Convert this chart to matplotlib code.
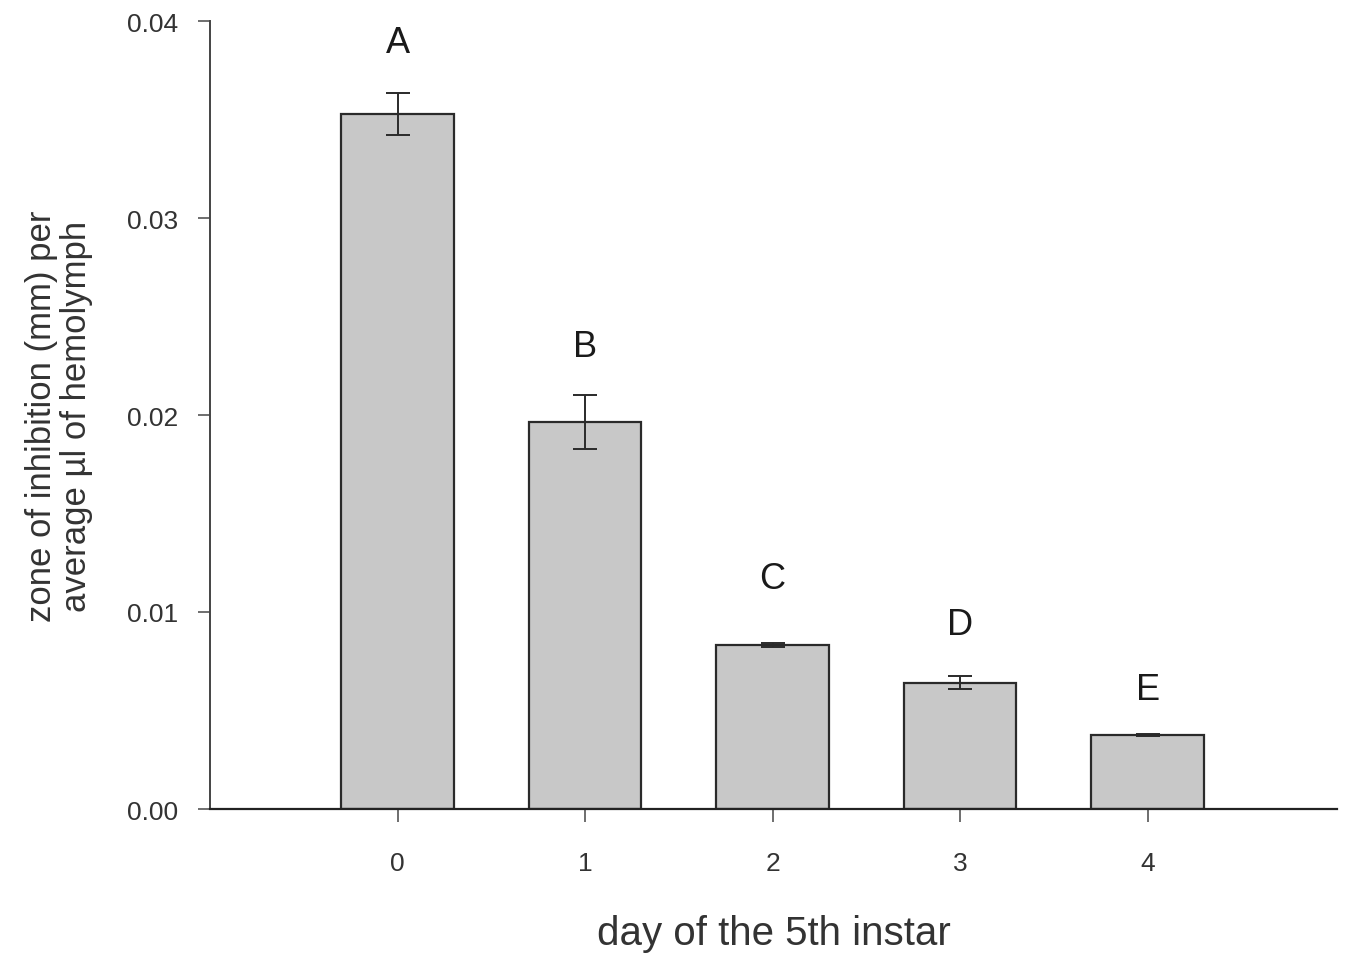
import matplotlib
matplotlib.use("Agg")
import matplotlib.pyplot as plt

days = [0, 1, 2, 3, 4]
tick_labels = ["0", "1", "2", "3", "4"]
values = [0.03528, 0.01964, 0.00832, 0.0064, 0.00376]
errors = [0.00108, 0.00135, 0.00010, 0.00033, 0.00003]
letters = ["A", "B", "C", "D", "E"]
letter_y = [0.0389, 0.0235, 0.01168, 0.00939, 0.00609]

plt.rcParams['font.family'] = ['Liberation Sans', 'DejaVu Sans']
txt = '#333333'
fig = plt.figure(figsize=(13.47, 9.54), dpi=100)
ax = fig.add_axes([210/1347, 1-810/954, (1337-210)/1347, (810-22)/954])

ax.bar(days, values, width=0.6, color='#c8c8c8', edgecolor='#2a2a2a', linewidth=1.6,
       yerr=errors, capsize=8.5, error_kw=dict(ecolor='#2a2a2a', elinewidth=1.4, capthick=1.4),
       zorder=2)
for d, l, y in zip(days, letters, letter_y):
    ax.text(d, y, l, ha='center', va='center', fontsize=26, color='#1a1a1a')

ax.set_xlim(-1, 5.01)
ax.set_ylim(0, 0.04)
ax.set_xticks(days)
ax.set_xticklabels(tick_labels)
ax.set_yticks([0.0, 0.01, 0.02, 0.03, 0.04])
ax.set_yticklabels(["0.00", "0.01", "0.02", "0.03", "0.04"])
for s in ['top', 'right']:
    ax.spines[s].set_visible(False)
ax.spines['left'].set_color('#444444')
ax.spines['bottom'].set_color('#222222')
ax.spines['left'].set_linewidth(1.4)
ax.spines['bottom'].set_linewidth(1.6)
ax.tick_params(axis='both', direction='out', length=9, width=1.2, colors='#555555',
               labelcolor=txt, labelsize=19)
ax.tick_params(axis='x', pad=21)
ax.tick_params(axis='y', pad=14)
ax.set_xlabel("day of the 5th instar", fontsize=29, color=txt, labelpad=28)
ax.set_ylabel("zone of inhibition (mm) per\naverage \u00b5l of hemolymph", fontsize=25,
              color=txt, labelpad=24, linespacing=1.1)

fig.savefig("out.png", dpi=100)
